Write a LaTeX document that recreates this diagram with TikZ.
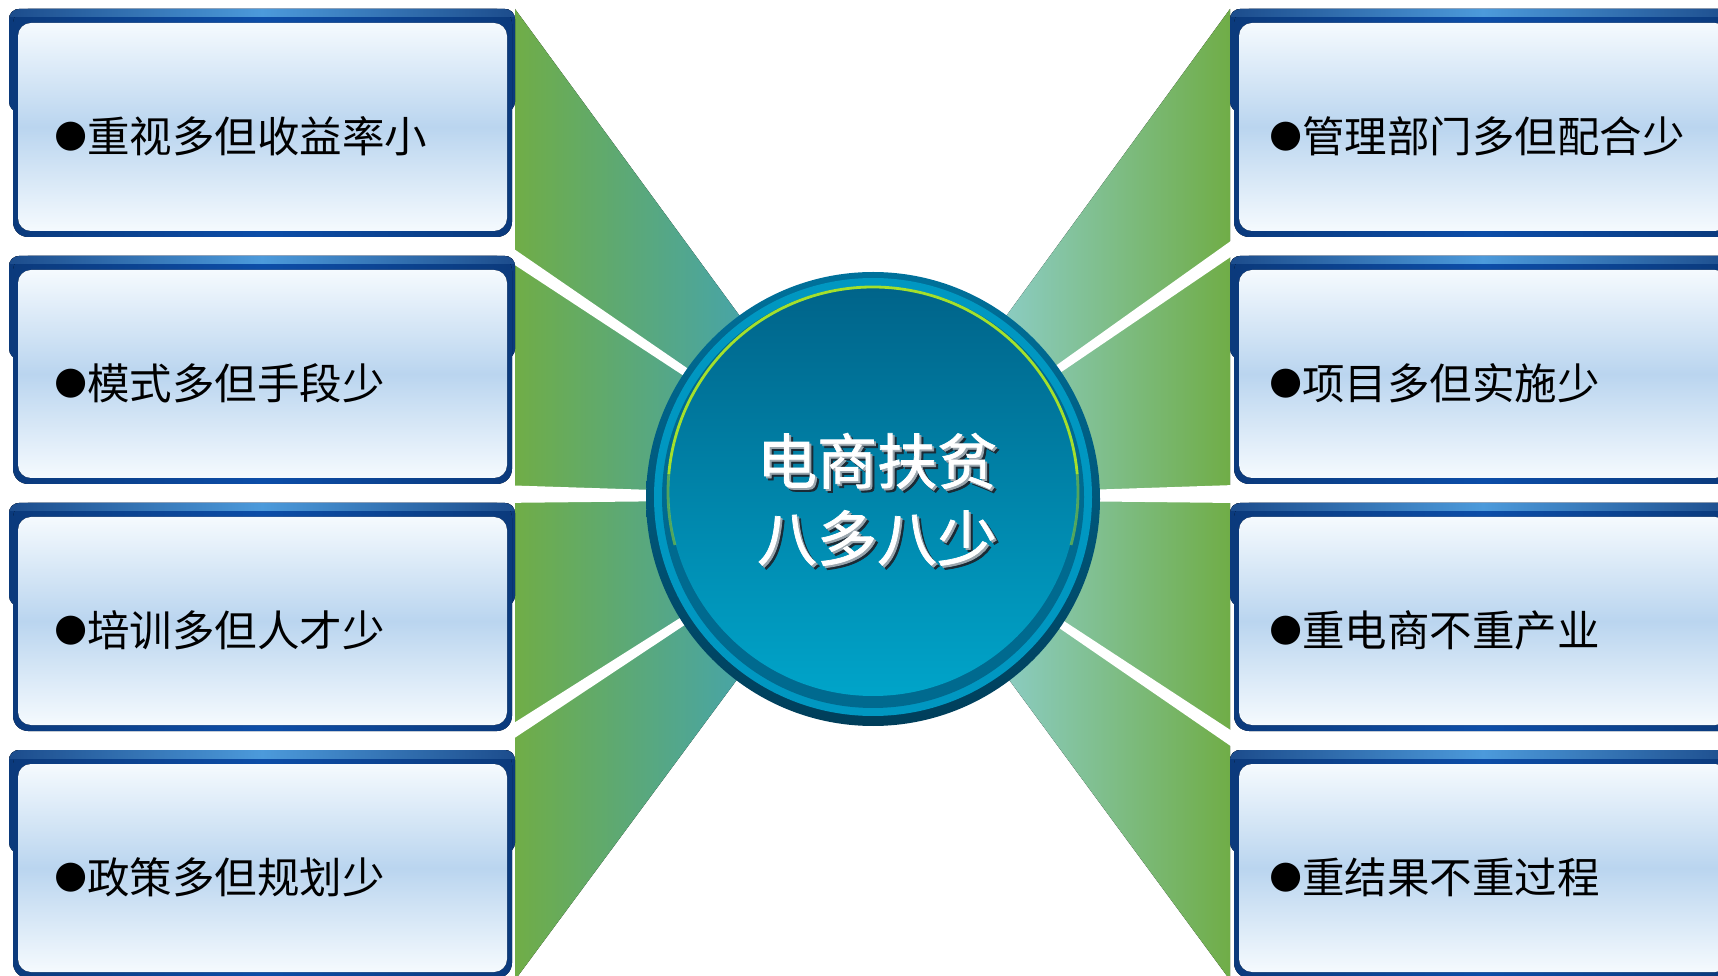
\documentclass[tikz,border=0pt]{standalone}
\usepackage{fontspec}
\newfontfamily\cjk{Noto Sans CJK SC}
\newfontfamily\cjkt{Noto Sans CJK SC}[FakeBold=1.2]
\newfontfamily\bul{DejaVu Sans}
\definecolor{fanG}{HTML}{70AD47}
\definecolor{fanTL}{HTML}{46A4AA}
\definecolor{fanTR}{HTML}{8CCDC6}
\definecolor{navyE}{HTML}{0B3A7C}
\definecolor{navyM}{HTML}{0C4DA8}
\definecolor{hiE}{HTML}{1C4C8C}
\definecolor{hiM}{HTML}{4C9ADB}
\definecolor{panW}{HTML}{F5FAFE}
\definecolor{panB}{HTML}{BAD5EF}
\definecolor{ringTop}{HTML}{00719B}
\definecolor{ringBot}{HTML}{003E5A}
\definecolor{ringBand}{HTML}{0097C1}
\definecolor{ringDark}{HTML}{006A8F}
\definecolor{diskTop}{HTML}{00648A}
\definecolor{diskBot}{HTML}{00A4C9}
\definecolor{limeLine}{HTML}{A4E02C}
\definecolor{shadowC}{HTML}{1A2A35}
\definecolor{midC}{HTML}{9AA6AE}
\newcommand\ebox[5]{%
  \begin{scope}[shift={(#1,#2)}]
    \fill[rounded corners=10pt, left color=navyE, right color=navyE, middle color=navyM] (0,0) rectangle (506,-103);
    \fill[rounded corners=15pt, left color=navyE, right color=navyE, middle color=navyM] (4,0) rectangle (503,-228);
    \begin{scope}
      \clip[rounded corners=10pt] (0,0) rectangle (506,-103);
      \fill[left color=hiE, right color=hiE, middle color=hiM] (0,0) rectangle (506,-8);
    \end{scope}
    \fill[rounded corners=13pt, top color=panW, bottom color=panW, middle color=panB] (9,-14) rectangle (498,-222);
    \node[boxtext] (#3) at (#4,-127) {\raisebox{6pt}{\bul\fontsize{38}{40}\selectfont ●}#5};
  \end{scope}}
\newcommand\embossed[1]{%
  \rlap{\kern4pt\raisebox{-4pt}{\color{shadowC}#1}}%
  \rlap{\kern2pt\raisebox{-2pt}{\color{midC}#1}}%
  \color{white}#1}
\begin{document}
\begin{tikzpicture}[x=1pt,y=1pt,
  boxtext/.style={anchor=west, inner sep=0pt, font=\cjk\fontsize{42.5}{48}\selectfont, text=black},
  titletext/.style={inner sep=0pt, font=\cjkt\fontsize{60}{60}\selectfont},
  sep/.style={fill=white}]
\useasboundingbox (0,0) rectangle (1718,975);
\clip (0,0) rectangle (1718,975);
% fans
\fill[left color=fanG, right color=fanTL] (515,966) -- (750,645) -- (750,313) -- (515,-5) -- cycle;
\fill[left color=fanTR, right color=fanG] (996,645) -- (1230,966) -- (1230,-5) -- (996,313) -- cycle;
% separators
\fill[sep] (498,737) -- (873,479) -- (873,475) -- (498,721) -- cycle;
\fill[sep] (498,490) -- (873,478) -- (873,476) -- (498,472) -- cycle;
\fill[sep] (498,242) -- (873,479) -- (873,475) -- (498,226) -- cycle;
\fill[sep] (1235,737) -- (873,479) -- (873,475) -- (1235,721) -- cycle;
\fill[sep] (1235,490) -- (873,478) -- (873,476) -- (1235,472) -- cycle;
\fill[sep] (1235,242) -- (873,479) -- (873,475) -- (1235,226) -- cycle;
% boxes
\ebox{9}{966}{L1}{45}{重视多但收益率小}
\ebox{9}{719}{L2}{45}{模式多但手段少}
\ebox{9}{472}{L3}{45}{培训多但人才少}
\ebox{9}{225}{L4}{45}{政策多但规划少}
\ebox{1230}{966}{R1}{39}{管理部门多但配合少}
\ebox{1230}{719}{R2}{39}{项目多但实施少}
\ebox{1230}{472}{R3}{39}{重电商不重产业}
\ebox{1230}{225}{R4}{39}{重结果不重过程}
% centre circle
\shade[top color=ringTop, bottom color=ringBot] (873,476) circle (227);
\fill[ringBand] (873,478) circle (219);
\fill[ringDark] (873,478) circle (211);
\shade[top color=diskTop, bottom color=diskBot] (873,483) circle (204);
\draw[limeLine, line width=2.8pt, opacity=0.5] (873,483) ++(195:205) arc[start angle=195, end angle=175, radius=205];
\draw[limeLine, line width=2.8pt, opacity=0.5] (873,483) ++(5:205) arc[start angle=5, end angle=-15, radius=205];
\draw[limeLine, line width=2.8pt] (873,483) ++(175:205) arc[start angle=175, end angle=5, radius=205];
% title
\node[titletext] (t1) at (877,512) {\embossed{电商扶贫}};
\node[titletext] (t2) at (877,435) {\embossed{八多八少}};
\end{tikzpicture}
\end{document}
